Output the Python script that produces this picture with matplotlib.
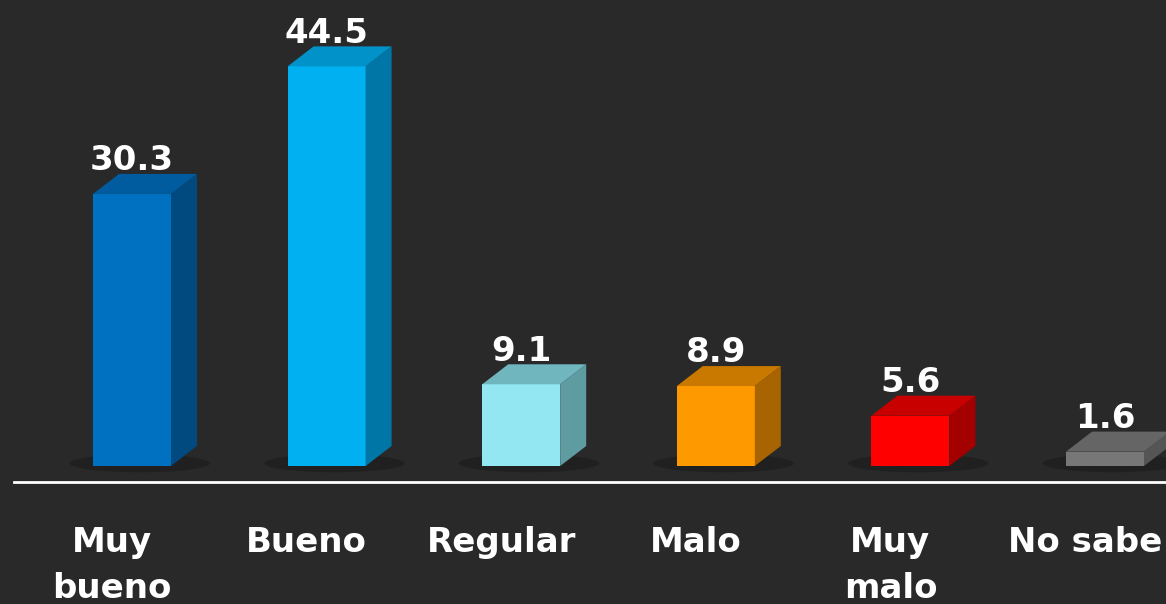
import matplotlib
matplotlib.use("Agg")
import matplotlib.pyplot as plt
from matplotlib.patches import Polygon, Ellipse

categories = ["Muy\nbueno", "Bueno", "Regular", "Malo", "Muy\nmalo", "No sabe"]
values = [30.3, 44.5, 9.1, 8.9, 5.6, 1.6]
value_labels = ["30.3", "44.5", "9.1", "8.9", "5.6", "1.6"]
front_colors = ["#0070C0", "#00B0F0", "#93E7F2", "#FF9900", "#FF0000", "#777777"]
top_colors = ["#005C9E", "#0092C8", "#6FB6BE", "#C97800", "#C80000", "#656565"]
side_colors = ["#004A80", "#0076A6", "#5E9CA2", "#A86400", "#A40000", "#555555"]

BG = "#292929"
W, H = 1166, 604
fig = plt.figure(figsize=(W / 100, H / 100), dpi=100, facecolor=BG)
ax = fig.add_axes([0, 0, 1, 1])
ax.set_facecolor(BG)
ax.axis("off")

px_x = 194.6          # pixels per category
px_y = 8.98           # pixels per unit
x0_px, y0_px = 132, 466
ax.set_xlim(-x0_px / px_x, (W - x0_px) / px_x)
ax.set_ylim(-(H - y0_px) / px_y, y0_px / px_y)

bw = 78 / px_x
dx = 26 / px_x
dy = 20 / px_y
font = dict(color="white", fontsize=24.5, fontweight="bold", family="DejaVu Sans")

for i, v in enumerate(values):
    # shadow
    ax.add_patch(Ellipse((i + dx * 0.3, 0.3), bw * 1.8, 2.0, color="#161616",
                         alpha=0.45, zorder=1, lw=0))
    xl, xr = i - bw / 2, i + bw / 2
    ax.bar(i, v, width=bw, color=front_colors[i], zorder=3, lw=0)
    ax.add_patch(Polygon([(xr, 0), (xr + dx, dy), (xr + dx, v + dy), (xr, v)],
                         closed=True, color=side_colors[i], lw=0, zorder=3))
    ax.add_patch(Polygon([(xl, v), (xr, v), (xr + dx, v + dy), (xl + dx, v + dy)],
                         closed=True, color=top_colors[i], lw=0, zorder=3))
    ax.text(i, v + dy + 0.4, value_labels[i], ha="center", va="baseline",
            zorder=4, **font)
    for k, line in enumerate(categories[i].split("\n")):
        ax.text(i - 20 / px_x, -(552 + 46 * k - y0_px) / px_y, line,
                ha="center", va="baseline", zorder=4, **font)

ax.plot([(14 - x0_px) / px_x, (W - x0_px) / px_x], [-16 / px_y, -16 / px_y],
        color="white", lw=2, zorder=2)

fig.savefig("out.png", dpi=100, facecolor=BG)
